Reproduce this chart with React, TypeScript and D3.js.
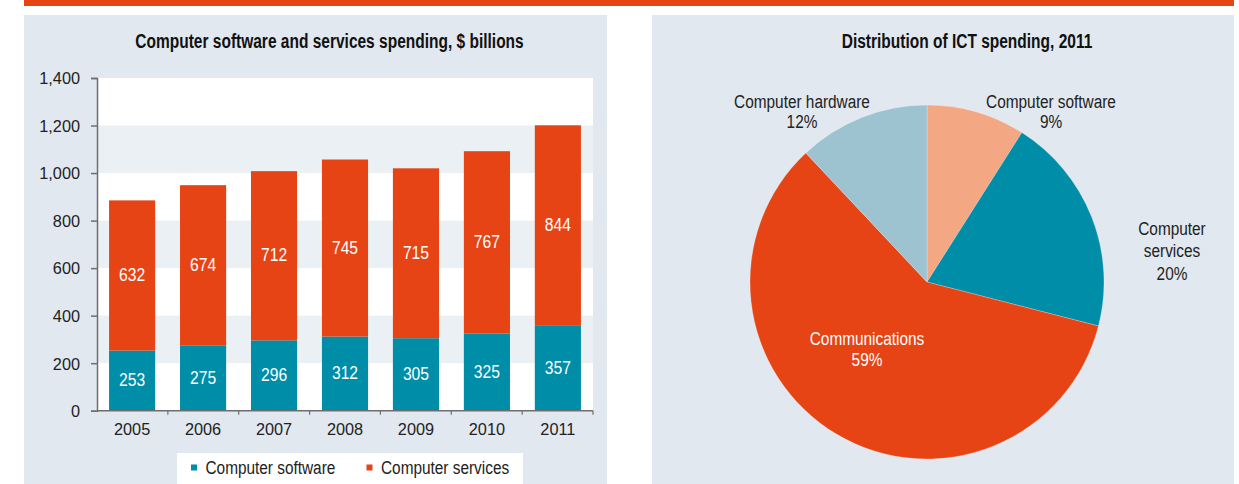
import React, { useEffect, useRef } from "react";
import * as d3 from "d3";

const years = ["2005", "2006", "2007", "2008", "2009", "2010", "2011"];
const software = [253, 275, 296, 312, 305, 325, 357];
const services = [632, 674, 712, 745, 715, 767, 844];
const yTicks = [0, 200, 400, 600, 800, 1000, 1200, 1400];

const pieLabels = [["Computer software", "9%"], ["Computer", "services", "20%"], ["Communications", "59%"], ["Computer hardware", "12%"]];
const pieValues = [9, 20, 59, 12];

const ORANGE = "#e64415";
const TEAL = "#008da8";
const PANEL = "#e1e8ef";
const BAND = "#ebf0f4";
const FONT = "'Liberation Sans Narrow', 'Arial Narrow', 'Liberation Sans', sans-serif";

// text squeezed horizontally to mimic the condensed face of the original
const addText = (
    parent: d3.Selection<any, any, any, any>,
    x: number,
    y: number,
    lines: string[],
    opts: { size?: number; weight?: string; anchor?: string; fill?: string; sx?: number; lh?: number } = {},
) => {
    const { size = 19, weight = "normal", anchor = "middle", fill = "#222", sx = 0.81, lh = 21 } = opts;
    const t = parent
        .append("g")
        .attr("transform", `translate(${x},${y}) scale(${sx},1)`)
        .append("text")
        .attr("text-anchor", anchor)
        .attr("font-family", FONT)
        .attr("font-size", size)
        .attr("font-weight", weight)
        .attr("fill", fill);
    lines.forEach((ln, j) => t.append("tspan").attr("x", 0).attr("y", j * lh).text(ln));
    return t;
};

const App = (): JSX.Element => {
    const ref = useRef<SVGSVGElement>(null);
    const width = 1239;
    const height = 484;

    useEffect(() => {
        if (!ref.current) return;
        const svg = d3.select(ref.current);
        svg.selectAll("*").remove();

        // top rule + panels
        svg.append("rect").attr("x", 24).attr("y", 0).attr("width", 1210).attr("height", 6).attr("fill", ORANGE);
        svg.append("rect").attr("x", 24).attr("y", 15).attr("width", 583).attr("height", 480).attr("fill", PANEL);
        svg.append("rect").attr("x", 652).attr("y", 15).attr("width", 582).attr("height", 480).attr("fill", PANEL);

        // bar chart
        const margin = { left: 97, right: 593, top: 78, bottom: 410.7 };
        const x = d3.scaleBand().domain(years).range([margin.left, margin.right]).paddingInner(0.35).paddingOuter(0.17);
        const y = d3.scaleLinear().domain([0, 1400]).range([margin.bottom, margin.top]);

        const g = svg.append("g");
        g.append("rect")
            .attr("x", margin.left).attr("y", margin.top)
            .attr("width", margin.right - margin.left).attr("height", margin.bottom - margin.top)
            .attr("fill", "#fff");
        // alternating bands
        g.selectAll("rect.band")
            .data([200, 600, 1000])
            .join("rect")
            .attr("class", "band")
            .attr("x", margin.left).attr("width", margin.right - margin.left)
            .attr("y", (d) => y(d + 200)).attr("height", (d) => y(d) - y(d + 200))
            .attr("fill", BAND);

        addText(g, 329.5, 48, ["Computer software and services spending, $ billions"], { size: 19.5, weight: "bold", fill: "#111", sx: 0.795 });

        const stack = d3.stack<number>().keys(["s", "v"]).value((i, k) => (k === "s" ? software[i] : services[i]));
        const series = stack(years.map((_, i) => i));
        const colors = [TEAL, ORANGE];

        series.forEach((s, si) => {
            g.append("g")
                .selectAll("rect")
                .data(s)
                .join("rect")
                .attr("x", (_, i) => x(years[i]) as number)
                .attr("width", x.bandwidth())
                .attr("y", (d) => y(d[1]))
                .attr("height", (d) => y(d[0]) - y(d[1]))
                .attr("fill", colors[si]);
            s.forEach((d, i) => {
                addText(g, (x(years[i]) as number) + x.bandwidth() / 2, y((d[0] + d[1]) / 2) + 5.5,
                    [String(si === 0 ? software[i] : services[i])], { size: 18, sx: 0.87, fill: "#fff" });
            });
        });

        // y axis
        const yAxis = g.append("g")
            .attr("transform", `translate(${margin.left},0)`)
            .call(d3.axisLeft(y).tickValues(yTicks).tickSize(6).tickPadding(11).tickFormat(d3.format(",")));
        yAxis.selectAll("path,line").attr("stroke", "#6e6e6e").attr("stroke-width", 1.5);
        yAxis.selectAll("text").attr("font-family", FONT).attr("font-size", 16.3).attr("fill", "#222").attr("dy", "0.36em");

        // x axis with ticks between categories
        const cell = (margin.right - margin.left) / years.length;
        const g2 = g.append("g");
        g2.append("line")
            .attr("x1", margin.left).attr("x2", margin.right)
            .attr("y1", y(0)).attr("y2", y(0))
            .attr("stroke", "#6e6e6e").attr("stroke-width", 1.5);
        g2.selectAll("line.tick")
            .data(d3.range(1, years.length + 1))
            .join("line")
            .attr("class", "tick")
            .attr("x1", (k) => margin.left + k * cell)
            .attr("x2", (k) => margin.left + k * cell)
            .attr("y1", y(0)).attr("y2", y(0) + 4)
            .attr("stroke", "#6e6e6e").attr("stroke-width", 1.2);
        g2.selectAll("text")
            .data(years)
            .join("text")
            .attr("x", (d) => (x(d) as number) + x.bandwidth() / 2)
            .attr("y", y(0) + 24.3)
            .attr("text-anchor", "middle")
            .attr("font-family", FONT).attr("font-size", 16.3)
            .attr("fill", "#222")
            .text((d) => d);

        // legend
        const lg = g.append("g");
        lg.append("rect").attr("x", 177).attr("y", 453).attr("width", 346).attr("height", 40).attr("fill", "#fff");
        const legendItems = [
            { label: "Computer software", color: TEAL, x: 191 },
            { label: "Computer services", color: ORANGE, x: 366.5 },
        ];
        legendItems.forEach((it) => {
            lg.append("rect").attr("x", it.x).attr("y", 464.5).attr("width", 6).attr("height", 6).attr("fill", it.color);
            addText(lg, it.x + 14.5, 474, [it.label], { anchor: "start" });
        });

        // pie chart
        const pg = svg.append("g");
        addText(pg, 967, 47.5, ["Distribution of ICT spending, 2011"], { size: 19.5, weight: "bold", fill: "#111", sx: 0.795 });

        const pie = d3.pie<number>().sort(null).value((d) => d);
        const arcs = pie(pieValues);
        const arc = d3.arc<d3.PieArcDatum<number>>().innerRadius(0).outerRadius(177);
        const pieColors = ["#f4a783", TEAL, ORANGE, "#9dc2d0"];
        pg.append("g")
            .attr("transform", `translate(927,282)`)
            .selectAll("path")
            .data(arcs)
            .join("path")
            .attr("d", arc)
            .attr("fill", (_, i) => pieColors[i])
            .attr("stroke", "rgba(255,255,255,0.4)")
            .attr("stroke-width", 0.6);

        const labelPos = [
            { x: 1051, y: 108, color: "#222", lh: 20.5 },
            { x: 1172, y: 235, color: "#222", lh: 22.5 },
            { x: 867, y: 345, color: "#fff", lh: 21.5 },
            { x: 802, y: 108, color: "#222", lh: 20.5 },
        ];
        pieLabels.forEach((lines, i) => {
            addText(pg, labelPos[i].x, labelPos[i].y, lines, { fill: labelPos[i].color, lh: labelPos[i].lh });
        });
    }, []);

    return (
        <svg
            ref={ref}
            width={width}
            height={height}
            viewBox={`0 0 ${width} ${height}`}
            style={{ position: "absolute", left: 0, top: 0, background: "#fff" }}
        />
    );
};

export default App;
